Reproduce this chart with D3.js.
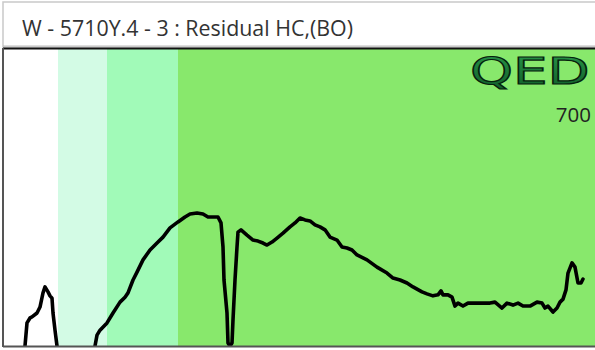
<!DOCTYPE html>
<html>
<head>
<meta charset="utf-8">
<script src="https://cdn.jsdelivr.net/npm/d3@7"></script>
<style>
  html, body { margin: 0; padding: 0; background: #fff; }
  svg { display: block; }
</style>
</head>
<body>
<svg id="chart" width="595" height="350"></svg>
<script>
// Sample title
const title = "W - 5710Y.4 - 3 : Residual HC,(BO)";

// Shaded zones along the channel axis
const zoneStarts = [0, 55, 104, 175];
const zoneEnds   = [55, 104, 175, 620];
const zoneColors = ["#ffffff", "#d3fbe5", "#a1fab8", "#88e86c"];

// Intensity trace (channel, value); null marks a gap in the trace
const channels = [22, 24, 27, 29, 34, 37, 40, 42, 45, 47, 49, 50, 52, 54,
  73,
  92, 94, 97, 104, 110, 117, 122, 125, 130, 134, 140, 147, 154, 160, 167, 175,
  182, 187, 194, 200, 205, 210, 215, 218, 220, 221, 224, 225, 227, 229, 230,
  232, 234, 235, 238, 244, 250, 255, 260, 264, 269, 274, 280, 287, 292, 297,
  302, 307, 312, 317, 322, 327, 334, 339, 344, 349, 354, 364, 374, 384, 390,
  397, 404, 410, 419, 424, 430, 435, 438, 440, 445, 449, 452, 455, 460, 465,
  474, 480, 487, 492, 499, 504, 510, 515, 520, 527, 534, 539, 542, 545, 550,
  554, 557, 560, 563, 565, 569, 572, 575, 578, 580];
const intensity = [0, 70, 85, 88, 100, 118, 161, 179, 164, 152, 145, 100, 48, 0,
  null,
  0, 33, 48, 70, 100, 133, 148, 161, 200, 224, 261, 291, 312, 330, 358, 376,
  391, 400, 403, 400, 391, 391, 391, 373, 300, 200, 100, 9, 0, 9, 79,
  200, 300, 345, 352, 336, 321, 318, 312, 306, 315, 327, 342, 361, 373, 388,
  382, 379, 367, 361, 352, 330, 321, 300, 297, 291, 276, 261, 239, 221, 206,
  200, 191, 179, 164, 158, 152, 155, 167, 155, 155, 148, 121, 130, 121, 130,
  130, 130, 130, 133, 115, 130, 124, 130, 121, 121, 133, 130, 115, 121, 103,
  115, 133, 142, 170, 221, 252, 239, 191, 191, 203];

// Value axis label
const tickValues = [700];

const svg = d3.select("#chart");
const W = 595, H = 350;
const plot = { left: 3, top: 48, bottom: 346, right: 620 };

const x = d3.scaleLinear().domain([0, 617]).range([plot.left, plot.right]);
const y = d3.scaleLinear().domain([0, 700]).range([plot.bottom, 115]);

// Header panel
svg.append("rect")
  .attr("x", 3).attr("y", 2).attr("width", W).attr("height", 45)
  .attr("fill", "#fff").attr("stroke", "#c9c9c9").attr("stroke-width", 1.5);

svg.append("text")
  .attr("x", 22).attr("y", 36)
  .attr("font-family", "'Open Sans', 'Noto Sans', sans-serif")
  .attr("font-size", 22.5)
  .attr("fill", "#333")
  .attr("textLength", 331)
  .attr("lengthAdjust", "spacingAndGlyphs")
  .text(title);

// Plot area
const g = svg.append("g");
g.append("clipPath").attr("id", "plotclip")
  .append("rect")
  .attr("x", plot.left).attr("y", plot.top)
  .attr("width", plot.right - plot.left).attr("height", plot.bottom - plot.top);

g.selectAll("rect.zone")
  .data(zoneStarts.map((s, i) => ({ s, e: zoneEnds[i], c: zoneColors[i] })))
  .join("rect")
  .attr("class", "zone")
  .attr("x", d => x(d.s))
  .attr("y", plot.top)
  .attr("width", d => x(d.e) - x(d.s))
  .attr("height", plot.bottom - plot.top)
  .attr("fill", d => d.c);

// Logo
const defs = svg.append("defs");
const grad = defs.append("linearGradient").attr("id", "logograd")
  .attr("x1", 0).attr("y1", 0).attr("x2", 0).attr("y2", 1);
grad.append("stop").attr("offset", "0%").attr("stop-color", "#2a9a4a");
grad.append("stop").attr("offset", "100%").attr("stop-color", "#0f5a28");

g.append("text")
  .attr("x", 0).attr("y", 0)
  .attr("transform", `translate(470,83.5) scale(1.44,1)`)
  .attr("font-family", "'DejaVu Sans', sans-serif")
  .attr("font-size", 38)
  .attr("fill", "url(#logograd)")
  .attr("stroke", "#06210d")
  .attr("stroke-width", 1.2)
  .text("QED");

// Value label
g.selectAll("text.tick")
  .data(tickValues)
  .join("text")
  .attr("class", "tick")
  .attr("x", 591)
  .attr("y", d => y(d))
  .attr("dy", "0.35em")
  .attr("text-anchor", "end")
  .attr("font-family", "'Open Sans', 'Noto Sans', sans-serif")
  .attr("font-size", 20.5)
  .attr("fill", "#222")
  .text(d => d);

// Trace
const pts = channels.map((c, i) => ({ c, v: intensity[i] }));
const line = d3.line()
  .defined(d => d.v !== null)
  .x(d => x(d.c))
  .y(d => y(d.v))
  .curve(d3.curveLinear);

g.append("path")
  .datum(pts)
  .attr("clip-path", "url(#plotclip)")
  .attr("fill", "none")
  .attr("stroke", "#000")
  .attr("stroke-width", 3.6)
  .attr("stroke-linejoin", "round")
  .attr("stroke-linecap", "round")
  .attr("d", line);

// Frame
svg.append("line")
  .attr("x1", 3).attr("x2", W).attr("y1", 46).attr("y2", 46)
  .attr("stroke", "#bdbdbd").attr("stroke-width", 1);
svg.append("line")
  .attr("x1", 3).attr("x2", W).attr("y1", plot.top + 0.5).attr("y2", plot.top + 0.5)
  .attr("stroke", "#111").attr("stroke-width", 2);
svg.append("line")
  .attr("x1", plot.left).attr("x2", plot.left).attr("y1", plot.top).attr("y2", plot.bottom + 1)
  .attr("stroke", "#555").attr("stroke-width", 2);
svg.append("line")
  .attr("x1", plot.left).attr("x2", W).attr("y1", plot.bottom + 0.5).attr("y2", plot.bottom + 0.5)
  .attr("stroke", "#555").attr("stroke-width", 2);
</script>
</body>
</html>
